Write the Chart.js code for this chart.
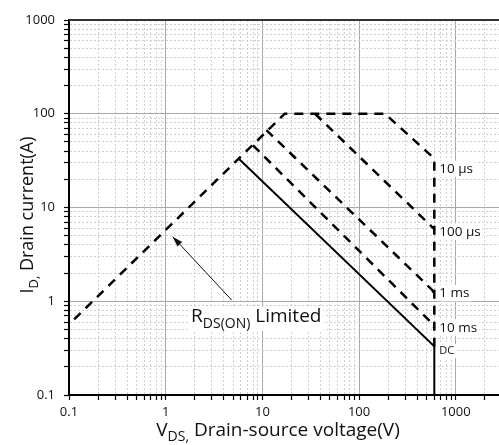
<!DOCTYPE html>
<html>
<head>
<meta charset="utf-8">
<script src="https://cdn.jsdelivr.net/npm/chart.js@4.4.0/dist/chart.umd.min.js"></script>
<style>
  html, body { margin: 0; padding: 0; background: #fff; }
  #wrap { width: 499px; height: 445px; }
</style>
</head>
<body>
<div id="wrap"><canvas id="soa"></canvas></div>
<script>
// axis decades
const xDecades = ['0.1', '1', '10', '100', '1000'];
const yDecades = ['0.1', '1', '10', '100', '1000'];

// safe operating area (V in volts, I in amps)
const v10us = [0.113, 17, 185, 560, 600, 600];
const i10us = [0.64, 100, 100, 35.5, 32, 0.33];
const v100us = [35, 560, 600];
const i100us = [100, 6.3, 5.9];
const v1ms = [11, 570, 600];
const i1ms = [67, 1.32, 1.2];
const v10ms = [8, 570, 600];
const i10ms = [46, 0.58, 0.52];
const vDC = [5.6, 600, 600];
const iDC = [33.7, 0.33, 0.1];

// curve labels, placed right of the 600 V edge
const curveNames = ['10 µs', '100 µs', '1 ms', '10 ms', 'DC'];
const curveLabelI = [23.3, 4.97, 1.1, 0.473, 0.273];

const pts = (vs, is) => vs.map((v, k) => ({x: v, y: is[k]}));

function decadeTicks(min, max, decades) {
  const out = [];
  decades.forEach(d => {
    const base = parseFloat(d);
    for (let m = 1; m <= 9; m++) {
      const v = base * m;
      if (v >= min * 0.999 && v <= max * 1.001) out.push({value: v, isMajor: m === 1, label: m === 1 ? d : ''});
    }
  });
  return out;
}

const font = '"Open Sans", "Noto Sans", sans-serif';

function richText(ctx, parts, x, y) {
  let cx = x;
  parts.forEach(p => {
    ctx.font = p.size + 'px ' + font;
    ctx.fillText(p.t, cx, y + (p.dy || 0));
    cx += ctx.measureText(p.t).width;
  });
  return cx - x;
}
function richWidth(ctx, parts) {
  let w = 0;
  parts.forEach(p => { ctx.font = p.size + 'px ' + font; w += ctx.measureText(p.t).width; });
  return w;
}

const overlay = {
  id: 'overlay',
  afterDatasetsDraw(chart) {
    const {ctx, chartArea, scales: {x, y}} = chart;
    ctx.save();
    // top frame
    ctx.strokeStyle = '#333';
    ctx.lineWidth = 2;
    ctx.beginPath();
    ctx.moveTo(chartArea.left, chartArea.top);
    ctx.lineTo(chartArea.right, chartArea.top);
    ctx.stroke();

    // curve labels
    ctx.textBaseline = 'alphabetic';
    curveNames.forEach((t, k) => {
      const size = t === 'DC' ? 11 : 13.5;
      ctx.font = size + 'px ' + font;
      const px = x.getPixelForValue(600) + 4;
      const py = y.getPixelForValue(curveLabelI[k]);
      const w = ctx.measureText(t).width;
      ctx.fillStyle = '#fff';
      ctx.fillRect(px, py - size + 1, w + 3, size + 3);
      ctx.fillStyle = '#111';
      ctx.fillText(t, px + 1, py);
    });

    // RDS(on) arrow
    const ax0 = x.getPixelForValue(4.81), ay0 = y.getPixelForValue(1.03);
    const ax1 = x.getPixelForValue(1.18), ay1 = y.getPixelForValue(4.89);
    ctx.strokeStyle = '#111';
    ctx.lineWidth = 1;
    ctx.beginPath();
    ctx.moveTo(ax0, ay0);
    ctx.lineTo(ax1, ay1);
    ctx.stroke();
    const ang = Math.atan2(ay1 - ay0, ax1 - ax0);
    ctx.fillStyle = '#111';
    ctx.beginPath();
    ctx.moveTo(ax1, ay1);
    ctx.lineTo(ax1 - 11 * Math.cos(ang - 0.3), ay1 - 11 * Math.sin(ang - 0.3));
    ctx.lineTo(ax1 - 11 * Math.cos(ang + 0.3), ay1 - 11 * Math.sin(ang + 0.3));
    ctx.closePath();
    ctx.fill();

    // RDS(on) text
    const rParts = [{t: 'R', size: 19}, {t: 'DS(ON)', size: 14, dy: 6}, {t: ' Limited', size: 19}];
    const rx = x.getPixelForValue(1.83), ry = y.getPixelForValue(0.601);
    const rw = richWidth(ctx, rParts);
    ctx.fillStyle = '#fff';
    ctx.fillRect(rx - 2, ry - 15, rw + 4, 24);
    ctx.fillStyle = '#111';
    richText(ctx, rParts, rx, ry);

    // axis titles
    const xParts = [{t: 'V', size: 19}, {t: 'DS,', size: 14, dy: 5}, {t: ' Drain-source voltage(V)', size: 19}];
    const xw = richWidth(ctx, xParts);
    richText(ctx, xParts, 278 - xw / 2, 436);

    const yParts = [{t: 'I', size: 18}, {t: 'D,', size: 13, dy: 5}, {t: ' Drain current(A)', size: 18}];
    const yw = richWidth(ctx, yParts);
    ctx.translate(33, 215);
    ctx.rotate(-Math.PI / 2);
    richText(ctx, yParts, -yw / 2, 0);
    ctx.restore();
  }
};

function gridOpts() {
  return {
    color: c => (c.tick && c.tick.isMajor) ? '#a8a8a8' : '#cfcfcf',
    lineWidth: 1,
    tickColor: '#000',
    tickLength: 5,
    tickWidth: 1.2
  };
}

const dashed = {borderColor: '#000', borderWidth: 2.5, borderDash: [9, 7], pointRadius: 0, fill: false, tension: 0};

new Chart(document.getElementById('soa'), {
  type: 'line',
  data: {
    datasets: [
      Object.assign({label: '10 µs', data: pts(v10us, i10us)}, dashed),
      Object.assign({label: '100 µs', data: pts(v100us, i100us)}, dashed),
      Object.assign({label: '1 ms', data: pts(v1ms, i1ms)}, dashed),
      Object.assign({label: '10 ms', data: pts(v10ms, i10ms)}, dashed),
      {label: 'DC', data: pts(vDC, iDC), borderColor: '#000', borderWidth: 2, pointRadius: 0, fill: false, tension: 0}
    ]
  },
  options: {
    responsive: true,
    maintainAspectRatio: false,
    animation: false,
    layout: { padding: { top: 20, right: 0, left: 0, bottom: 0 } },
    plugins: {
      legend: { display: false },
      tooltip: { enabled: false }
    },
    scales: {
      x: {
        type: 'logarithmic',
        min: 0.1,
        max: 2800,
        afterBuildTicks: s => { s.ticks = decadeTicks(0.1, 2800, xDecades); },
        afterFit: s => { s.height = 50; },
        grid: gridOpts(),
        border: {
          color: '#000',
          width: 2,
          dash: c => (c.tick && !c.tick.isMajor) ? [2, 2] : []
        },
        ticks: {
          autoSkip: false,
          maxRotation: 0,
          padding: 4,
          color: '#111',
          font: { family: font, size: 13 },
          callback: (v, i, ticks) => ticks[i].label
        }
      },
      y: {
        type: 'logarithmic',
        min: 0.1,
        max: 1000,
        afterBuildTicks: s => { s.ticks = decadeTicks(0.1, 1000, yDecades); },
        afterFit: s => { s.width = 69; },
        grid: gridOpts(),
        border: {
          color: '#000',
          width: 2,
          dash: c => (c.tick && !c.tick.isMajor) ? [2, 2] : []
        },
        ticks: {
          autoSkip: false,
          padding: 9,
          color: '#111',
          font: { family: font, size: 13 },
          callback: (v, i, ticks) => ticks[i].label
        }
      }
    }
  },
  plugins: [overlay]
});
</script>
</body>
</html>
